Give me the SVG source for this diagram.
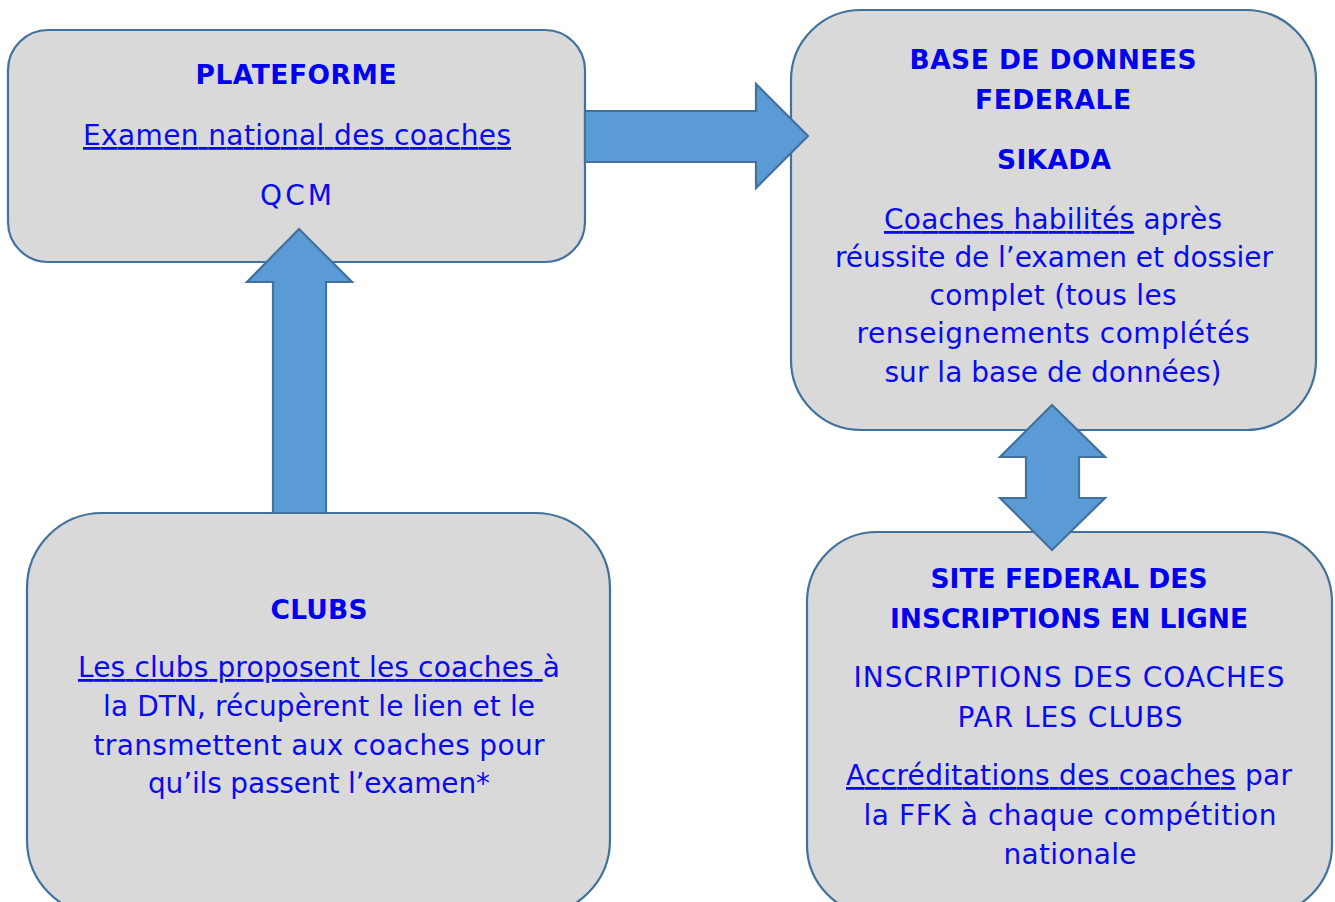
<svg xmlns="http://www.w3.org/2000/svg" width="1335" height="902" viewBox="0 0 1335 902">
<style>
.box{fill:#d9d9d9;stroke:#41719c;stroke-width:2.2}
.arr{fill:#5b9bd5;stroke:#41719c;stroke-width:2.2;stroke-linejoin:miter}
.t{font-family:"DejaVu Sans","Liberation Sans",sans-serif;font-size:28px;fill:#0a0aee;text-anchor:middle}
.b{font-family:"DejaVu Sans","Liberation Sans",sans-serif;font-size:26.5px;font-weight:bold;fill:#0000ee;text-anchor:middle}
.ul{text-decoration:underline}
</style>
<rect x="0" y="0" width="1335" height="902" fill="#ffffff"/>
<g id="plateforme">
<rect class="box" x="8" y="30" width="577" height="232" rx="40" ry="40"/>
<text class="b" x="296" y="84" textLength="201">PLATEFORME</text>
<text class="t ul" x="297" y="145" textLength="428">Examen national des coaches</text>
<text class="t" x="296" y="205" textLength="72">QCM</text>
</g>
<g id="base-donnees">
<rect class="box" x="791" y="10" width="525" height="420" rx="70" ry="70"/>
<text class="b" x="1053" y="69" textLength="287">BASE DE DONNEES</text>
<text class="b" x="1053" y="109" textLength="156">FEDERALE</text>
<text class="b" x="1054" y="169" textLength="114">SIKADA</text>
<text class="t" x="1053" y="229" textLength="338"><tspan class="ul">Coaches habilités</tspan> après</text>
<text class="t" x="1054" y="267" textLength="438">réussite de l’examen et dossier</text>
<text class="t" x="1053" y="305" textLength="247">complet (tous les</text>
<text class="t" x="1053" y="343" textLength="393">renseignements complétés</text>
<text class="t" x="1053" y="382" textLength="337">sur la base de données)</text>
</g>
<g id="clubs">
<rect class="box" x="27" y="513" width="583" height="402" rx="75" ry="75"/>
<text class="b" x="319" y="619" textLength="97">CLUBS</text>
<text class="t" x="319" y="677" textLength="482"><tspan class="ul">Les clubs proposent les coaches </tspan>à</text>
<text class="t" x="319" y="716" textLength="432">la DTN, récupèrent le lien et le</text>
<text class="t" x="319" y="755" textLength="451">transmettent aux coaches pour</text>
<text class="t" x="319" y="793" textLength="342">qu’ils passent l’examen*</text>
</g>
<g id="site-federal">
<rect class="box" x="807" y="532" width="525" height="383" rx="70" ry="70"/>
<text class="b" x="1069" y="588" textLength="277">SITE FEDERAL DES</text>
<text class="b" x="1069" y="628" textLength="358">INSCRIPTIONS EN LIGNE</text>
<text class="t" x="1069" y="687" textLength="431">INSCRIPTIONS DES COACHES</text>
<text class="t" x="1070" y="727" textLength="225">PAR LES CLUBS</text>
<text class="t" x="1069" y="785" textLength="446"><tspan class="ul">Accréditations des coaches</tspan> par</text>
<text class="t" x="1070" y="825" textLength="413">la FFK à chaque compétition</text>
<text class="t" x="1070" y="864" textLength="133">nationale</text>
</g>
<g id="connectors">
<path class="arr" d="M585,111 L756,111 L756,84 L808,136 L756,188 L756,162 L585,162 Z"/>
<path class="arr" d="M273,513 L273,282 L247,282 L299,229 L352,282 L326,282 L326,513 Z"/>
<path class="arr" d="M1052,405 L1105,457 L1079,457 L1079,498 L1105,498 L1052,550 L1000,498 L1026,498 L1026,457 L1000,457 Z"/>
</g>
</svg>
